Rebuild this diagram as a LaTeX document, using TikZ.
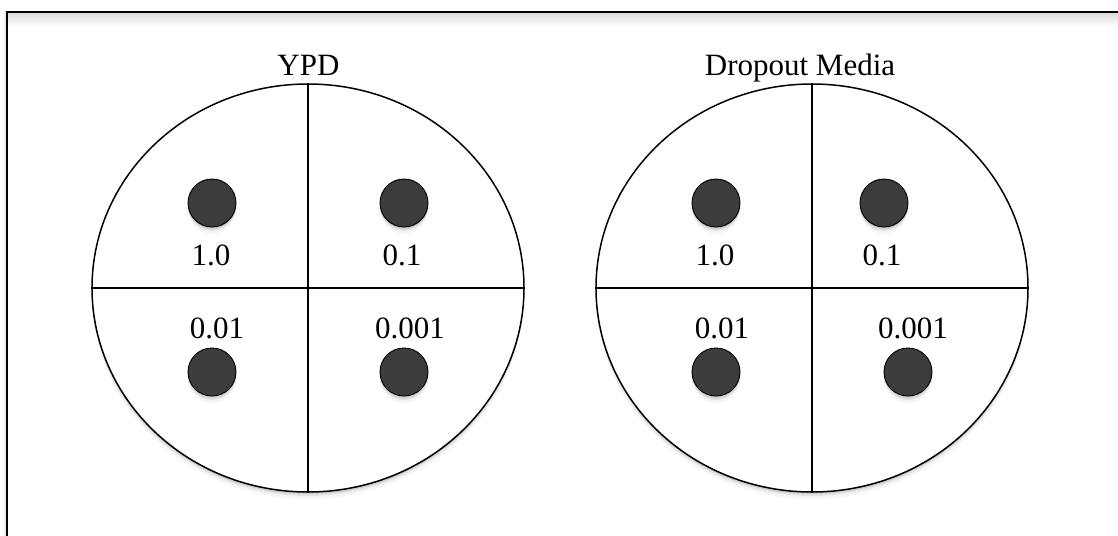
\documentclass[tikz,border=0pt]{standalone}
\usepackage{fontspec}
\setmainfont{Liberation Serif}
\usetikzlibrary{shapes.geometric}
\definecolor{dotgray}{HTML}{3C3C3C}
\tikzset{
  softshadow/.style={
    preaction={fill=black,opacity=.10,transform canvas={yshift=-2pt}},
    preaction={fill=black,opacity=.07,transform canvas={yshift=-4pt}},
    preaction={fill=black,opacity=.04,transform canvas={yshift=-7pt}},
  },
  plate/.style={ellipse, draw, line width=1.5pt, fill=white, minimum width=432pt,
    minimum height=408pt, inner sep=0pt, softshadow},
  colony/.style={circle, draw, line width=0.9pt, fill=dotgray, minimum size=48pt,
    inner sep=0pt, softshadow},
  lbl/.style={font=\fontsize{31}{37}\selectfont, anchor=base, inner sep=0pt},
  divider/.style={line width=1.5pt},
  frame/.style={line width=2pt},
}
\begin{document}
\begin{tikzpicture}[x=1pt,y=-1pt]
\useasboundingbox (0,0) rectangle (1118,535);
\fill[white] (0,0) rectangle (1118,535);
% frame
\shade[top color=black!14, bottom color=white] (8,13) rectangle (1118,26);
\shade[left color=white, right color=black!10] (2,12) rectangle (6,535);
\draw[frame] (7,545) -- (7,12) -- (1130,12);

% plate 1
\node[plate] (p1) at (308,288) {};
\draw[divider] (p1.north) -- (p1.south);
\draw[divider] (p1.west) -- (p1.east);
\node[lbl] (t1) at (308.5,75) {YPD};
\node[colony] (a1) at (212,203) {};
\node[colony] (b1) at (404,203) {};
\node[colony] (c1) at (212,372) {};
\node[colony] (d1) at (404,372) {};
\node[lbl] (la1) at (211,265) {1.0};
\node[lbl] (lb1) at (402,265) {0.1};
\node[lbl] (lc1) at (217,338) {0.01};
\node[lbl] (ld1) at (410,338) {0.001};

% plate 2
\node[plate] (p2) at (812,288) {};
\draw[divider] (p2.north) -- (p2.south);
\draw[divider] (p2.west) -- (p2.east);
\node[lbl] (t2) at (800,75) {Dropout Media};
\node[colony] (a2) at (716,203) {};
\node[colony] (b2) at (884,203) {};
\node[colony] (c2) at (716,372) {};
\node[colony] (d2) at (908,372) {};
\node[lbl] (la2) at (715,265) {1.0};
\node[lbl] (lb2) at (882,265) {0.1};
\node[lbl] (lc2) at (722,338) {0.01};
\node[lbl] (ld2) at (913,338) {0.001};
\end{tikzpicture}
\end{document}
